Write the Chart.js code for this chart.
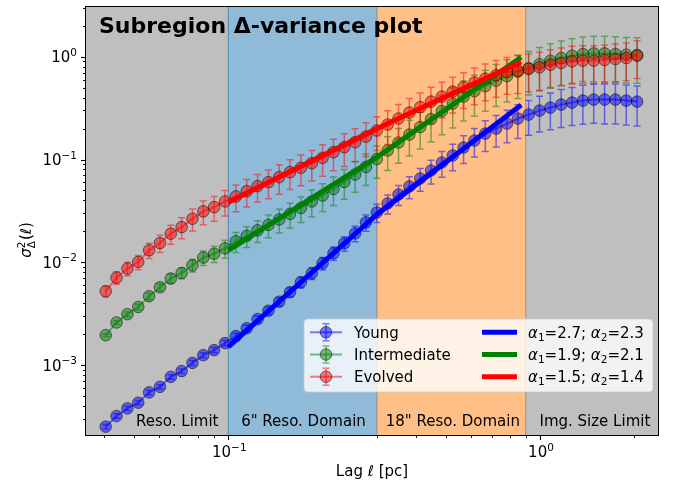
<!DOCTYPE html>
<html>
<head>
<meta charset="utf-8">
<script src="https://cdn.jsdelivr.net/npm/chart.js@4.4.1/dist/chart.umd.min.js"></script>
<style>
  html, body { margin: 0; padding: 0; background: #ffffff; }
  canvas { display: block; }
</style>
</head>
<body>
<canvas id="dv" width="674" height="486"></canvas>
<script>
// Lag values (pc)
const lags = [0.04044, 0.04381, 0.04747, 0.05143, 0.05572, 0.06036, 0.06540, 0.07085, 0.07676, 0.08316,
  0.09010, 0.09761, 0.1058, 0.1146, 0.1241, 0.1345, 0.1457, 0.1578, 0.1710, 0.1853,
  0.2007, 0.2175, 0.2356, 0.2553, 0.2765, 0.2996, 0.3246, 0.3517, 0.3810, 0.4128,
  0.4472, 0.4845, 0.5249, 0.5687, 0.6161, 0.6675, 0.7232, 0.7835, 0.8489, 0.9197,
  0.9964, 1.0795, 1.1695, 1.2670, 1.3727, 1.4872, 1.6112, 1.7456, 1.8912, 2.0489];

const seriesNames = ['Young', 'Intermediate', 'Evolved'];

// Delta-variance per subregion
const young = [0.000252, 0.000320, 0.000380, 0.000431, 0.000543, 0.000615, 0.000769, 0.000875, 0.001052, 0.001250,
  0.001400, 0.001637, 0.001913, 0.002286, 0.002800, 0.003380, 0.004140, 0.005120, 0.006400, 0.007820,
  0.009780, 0.01223, 0.01529, 0.01913, 0.02445, 0.03057, 0.03740, 0.04570, 0.05470, 0.06540,
  0.07820, 0.09350, 0.1094, 0.1308, 0.1529, 0.1788, 0.2000, 0.2237, 0.2502, 0.2735,
  0.2990, 0.3197, 0.3420, 0.3575, 0.3741, 0.3827, 0.3827, 0.3827, 0.3741, 0.3659];
const intermediate = [0.001955, 0.002600, 0.003130, 0.003680, 0.004680, 0.005720, 0.006950, 0.007870, 0.009350, 0.01111,
  0.01214, 0.01368, 0.01600, 0.01808, 0.02046, 0.02310, 0.02610, 0.02960, 0.03380, 0.03910,
  0.04470, 0.05170, 0.06050, 0.07150, 0.08460, 0.1011, 0.1223, 0.1462, 0.1749, 0.2070,
  0.2472, 0.2957, 0.3497, 0.4090, 0.4626, 0.5172, 0.5848, 0.6470, 0.7150, 0.7731,
  0.8458, 0.9145, 0.9714, 1.0226, 1.0620, 1.0766, 1.0766, 1.0620, 1.0457, 1.0388];
const evolved = [0.005230, 0.007100, 0.008690, 0.01007, 0.01309, 0.01540, 0.01900, 0.02203, 0.02656, 0.03129,
  0.03443, 0.03910, 0.04373, 0.04921, 0.05506, 0.06024, 0.06736, 0.07534, 0.08305, 0.09204,
  0.1039, 0.1178, 0.1317, 0.1473, 0.1672, 0.1913, 0.2187, 0.2502, 0.2860, 0.3233,
  0.3659, 0.4090, 0.4571, 0.5058, 0.5596, 0.6114, 0.6610, 0.7073, 0.7311, 0.7603,
  0.7873, 0.8363, 0.8686, 0.9003, 0.9145, 0.9145, 0.9289, 0.9499, 0.9714, 1.0226];

// Relative 1-sigma uncertainties
const youngErr = [0.05, 0.05, 0.05, 0.05, 0.05, 0.05, 0.05, 0.05, 0.055, 0.055,
  0.06, 0.06, 0.065, 0.07, 0.075, 0.08, 0.09, 0.10, 0.12, 0.13,
  0.14, 0.15, 0.16, 0.17, 0.18, 0.20, 0.21, 0.22, 0.24, 0.25,
  0.26, 0.28, 0.29, 0.30, 0.31, 0.33, 0.34, 0.35, 0.36, 0.37,
  0.38, 0.39, 0.40, 0.40, 0.41, 0.41, 0.42, 0.42, 0.42, 0.42];
const intermediateErr = [0.03, 0.04, 0.05, 0.06, 0.07, 0.08, 0.10, 0.12, 0.14, 0.16,
  0.18, 0.20, 0.22, 0.23, 0.24, 0.25, 0.26, 0.27, 0.28, 0.29,
  0.30, 0.31, 0.32, 0.33, 0.34, 0.35, 0.36, 0.37, 0.38, 0.39,
  0.40, 0.41, 0.42, 0.42, 0.43, 0.43, 0.44, 0.44, 0.45, 0.45,
  0.45, 0.46, 0.46, 0.46, 0.46, 0.47, 0.47, 0.47, 0.47, 0.47];
const evolvedErr = [0.12, 0.14, 0.15, 0.16, 0.17, 0.19, 0.21, 0.23, 0.24, 0.26,
  0.27, 0.28, 0.29, 0.30, 0.30, 0.31, 0.32, 0.32, 0.33, 0.33,
  0.34, 0.34, 0.35, 0.35, 0.36, 0.36, 0.36, 0.37, 0.37, 0.37,
  0.38, 0.38, 0.38, 0.38, 0.39, 0.39, 0.39, 0.39, 0.40, 0.40,
  0.40, 0.40, 0.40, 0.40, 0.40, 0.40, 0.40, 0.40, 0.40, 0.40];

// Power-law fits: slopes in the two domains and amplitude at the first break
const alpha1 = [2.7, 1.9, 1.5];
const alpha2 = [2.3, 2.1, 1.4];
const fitAmp = [0.001506, 0.01308, 0.03849];
const fitBreaks = [0.1, 0.3, 0.87];

// Scale domains
const domainEdges = [0.1, 0.3, 0.9];
const domainNames = ['Reso. Limit', '6" Reso. Domain', '18" Reso. Domain', 'Img. Size Limit'];
const domainLabelAt = [0.0686, 0.1743, 0.5254, 1.5];

const xTickExps = [-1, 0];
const yTickExps = [0, -1, -2, -3];

// ---- styling ----
const FONT = '"DejaVu Sans", sans-serif';
const rgb = ['0,0,255', '0,128,0', '255,0,0'];
const spanColors = ['rgba(128,128,128,0.5)', 'rgba(31,119,180,0.5)', 'rgba(255,127,14,0.5)', 'rgba(128,128,128,0.5)'];

const seriesVals = [young, intermediate, evolved];
const seriesErr = [youngErr, intermediateErr, evolvedErr];

const datasets = [];
seriesVals.forEach((vals, s) => {
  datasets.push({
    label: seriesNames[s],
    data: lags.map((x, i) => ({ x: x, y: vals[i] })),
    relErr: seriesErr[s],
    showLine: true,
    borderColor: `rgba(${rgb[s]},0.5)`,
    borderWidth: 2,
    pointRadius: 5.8,
    pointBackgroundColor: `rgba(${rgb[s]},0.5)`,
    pointBorderColor: 'rgba(0,0,0,0.5)',
    pointBorderWidth: 1,
    order: 6 - s
  });
});
alpha1.forEach((a1, s) => {
  const y0 = fitAmp[s];
  const y1 = y0 * Math.pow(fitBreaks[1] / fitBreaks[0], a1);
  const y2 = y1 * Math.pow(fitBreaks[2] / fitBreaks[1], alpha2[s]);
  datasets.push({
    label: 'fit ' + seriesNames[s],
    data: [{ x: fitBreaks[0], y: y0 }, { x: fitBreaks[1], y: y1 }, { x: fitBreaks[2], y: y2 }],
    showLine: true,
    borderColor: `rgb(${rgb[s]})`,
    borderWidth: 5,
    borderCapStyle: 'butt',
    borderJoinStyle: 'miter',
    pointRadius: 0,
    order: 3 - s
  });
});

// draws text pieces with individual fonts and vertical offsets
function drawRich(ctx, parts, x, y, align) {
  let w = 0;
  parts.forEach(p => { ctx.font = p.font; p.w = p.adv !== undefined ? p.adv : ctx.measureText(p.text).width; w += p.w; });
  let cx = align === 'center' ? x - w / 2 : (align === 'right' ? x - w : x);
  ctx.textAlign = 'left';
  parts.forEach(p => {
    ctx.font = p.font;
    ctx.fillText(p.text, cx, y + (p.dy || 0));
    cx += p.w;
  });
  return w;
}

function powLabel(exp) {
  const e = exp < 0 ? '\u2212' + Math.abs(exp) : String(exp);
  return [
    { text: '10', font: `15px ${FONT}` },
    { text: e, font: `10.5px ${FONT}`, dy: -6.5 }
  ];
}

const spans = {
  id: 'spans',
  beforeDatasetsDraw(chart) {
    const { ctx, chartArea: a } = chart;
    const xs = chart.scales.x;
    const edges = [a.left - 2, ...domainEdges.map(v => xs.getPixelForValue(v)), a.right + 2];
    ctx.save();
    ctx.beginPath();
    ctx.rect(a.left, a.top, a.right - a.left, a.bottom - a.top);
    ctx.clip();
    for (let i = 0; i < 4; i++) {
      ctx.fillStyle = spanColors[i];
      ctx.strokeStyle = spanColors[i];
      ctx.lineWidth = 1;
      ctx.fillRect(edges[i], a.top - 2, edges[i + 1] - edges[i], a.bottom - a.top + 4);
      ctx.strokeRect(edges[i], a.top - 2, edges[i + 1] - edges[i], a.bottom - a.top + 4);
    }
    ctx.restore();
  }
};

const errorBars = {
  id: 'errorBars',
  beforeDatasetDraw(chart, args) {
    const ds = chart.data.datasets[args.index];
    if (!ds.relErr) return;
    const { ctx, chartArea: a } = chart;
    const xs = chart.scales.x, ys = chart.scales.y;
    ctx.save();
    ctx.beginPath();
    ctx.rect(a.left, a.top, a.right - a.left, a.bottom - a.top);
    ctx.clip();
    ctx.strokeStyle = ds.borderColor;
    ctx.lineWidth = 1.5;
    ds.data.forEach((p, i) => {
      const e = p.y * ds.relErr[i];
      const px = xs.getPixelForValue(p.x);
      const yHi = ys.getPixelForValue(p.y + e);
      const yLo = ys.getPixelForValue(p.y - e);
      ctx.beginPath();
      ctx.moveTo(px, yLo); ctx.lineTo(px, yHi);
      ctx.moveTo(px - 3.5, yLo); ctx.lineTo(px + 3.5, yLo);
      ctx.moveTo(px - 3.5, yHi); ctx.lineTo(px + 3.5, yHi);
      ctx.stroke();
    });
    ctx.restore();
  }
};

const decor = {
  id: 'decor',
  afterDatasetsDraw(chart) {
    const { ctx, chartArea: a } = chart;
    const xs = chart.scales.x, ys = chart.scales.y;
    ctx.save();
    ctx.fillStyle = '#000';
    ctx.textBaseline = 'alphabetic';

    // domain labels
    ctx.font = `15px ${FONT}`;
    ctx.textAlign = 'center';
    domainNames.forEach((t, i) => ctx.fillText(t, xs.getPixelForValue(domainLabelAt[i]), 426));

    // title
    ctx.font = `bold 22px ${FONT}`;
    ctx.textAlign = 'left';
    ctx.fillText('Subregion \u0394-variance plot', 99, 33);

    // frame
    ctx.strokeStyle = '#000';
    ctx.lineWidth = 1;
    ctx.strokeRect(Math.round(a.left) - 0.5, Math.round(a.top) - 0.5,
      Math.round(a.right - a.left) + 1, Math.round(a.bottom - a.top) + 1);

    // ticks
    function tickVals(scale) {
      const out = [];
      const lo = Math.floor(Math.log10(scale.min)), hi = Math.ceil(Math.log10(scale.max));
      for (let e = lo; e <= hi; e++) {
        for (let k = 1; k <= 9; k++) {
          const v = k * Math.pow(10, e);
          if (v >= scale.min * 0.9999 && v <= scale.max * 1.0001) out.push({ v: v, major: k === 1 });
        }
      }
      return out;
    }
    tickVals(xs).forEach(t => {
      const px = Math.round(xs.getPixelForValue(t.v)) + 0.5;
      ctx.lineWidth = t.major ? 1.1 : 0.9;
      ctx.beginPath();
      ctx.moveTo(px, a.bottom); ctx.lineTo(px, a.bottom + (t.major ? 5 : 3));
      ctx.stroke();
    });
    tickVals(ys).forEach(t => {
      const py = Math.round(ys.getPixelForValue(t.v)) + 0.5;
      ctx.lineWidth = t.major ? 1.1 : 0.9;
      ctx.beginPath();
      ctx.moveTo(a.left, py); ctx.lineTo(a.left - (t.major ? 5 : 3), py);
      ctx.stroke();
    });

    // tick labels
    xTickExps.forEach(e => {
      drawRich(ctx, powLabel(e), xs.getPixelForValue(Math.pow(10, e)) + 1, 457, 'center');
    });
    yTickExps.forEach(e => {
      drawRich(ctx, powLabel(e), a.left - 9, ys.getPixelForValue(Math.pow(10, e)) + 5.5, 'right');
    });

    // x-axis label
    ctx.font = `15px ${FONT}`;
    ctx.textAlign = 'center';
    ctx.fillText('Lag \u2113 [pc]', (a.left + a.right) / 2, 476);

    // y-axis label: sigma^2_Delta(l)
    ctx.save();
    ctx.translate(31, 240);
    ctx.rotate(-Math.PI / 2);
    const big = `italic 15px ${FONT}`, small = `10.5px ${FONT}`, norm = `15px ${FONT}`;
    ctx.font = small;
    const wSup = Math.max(ctx.measureText('2').width, ctx.measureText('\u0394').width);
    const parts = [
      { text: '\u03c3', font: big },
      { text: '2', font: small, dy: -6.5, adv: 0 },
      { text: '\u0394', font: small, dy: 3.5, adv: wSup + 1 },
      { text: '(', font: norm },
      { text: '\u2113', font: norm },
      { text: ')', font: norm }
    ];
    drawRich(ctx, parts, 0, 0, 'center');
    ctx.restore();

    ctx.restore();
  },
  afterDraw(chart) {
    const { ctx } = chart;
    ctx.save();
    // legend frame
    const bx = 304, by = 319, bw = 349, bh = 73, r = 4;
    ctx.beginPath();
    ctx.moveTo(bx + r, by);
    ctx.arcTo(bx + bw, by, bx + bw, by + bh, r);
    ctx.arcTo(bx + bw, by + bh, bx, by + bh, r);
    ctx.arcTo(bx, by + bh, bx, by, r);
    ctx.arcTo(bx, by, bx + bw, by, r);
    ctx.closePath();
    ctx.fillStyle = 'rgba(255,255,255,0.8)';
    ctx.fill();
    ctx.strokeStyle = 'rgba(204,204,204,0.8)';
    ctx.lineWidth = 1;
    ctx.stroke();

    const rows = [332.3, 354.5, 376.7];
    ctx.textBaseline = 'alphabetic';
    seriesNames.forEach((name, s) => {
      const y = rows[s];
      const c = `rgba(${rgb[s]},0.5)`;
      ctx.strokeStyle = c;
      ctx.lineWidth = 2;
      ctx.beginPath(); ctx.moveTo(310, y); ctx.lineTo(342, y); ctx.stroke();
      ctx.lineWidth = 1.5;
      ctx.beginPath();
      ctx.moveTo(326, y - 8.5); ctx.lineTo(326, y + 8.5);
      ctx.moveTo(322.5, y - 8.5); ctx.lineTo(329.5, y - 8.5);
      ctx.moveTo(322.5, y + 8.5); ctx.lineTo(329.5, y + 8.5);
      ctx.stroke();
      ctx.beginPath(); ctx.arc(326, y, 5.8, 0, Math.PI * 2);
      ctx.fillStyle = c; ctx.fill();
      ctx.strokeStyle = 'rgba(0,0,0,0.5)'; ctx.lineWidth = 1; ctx.stroke();

      ctx.fillStyle = '#000';
      ctx.font = `15px ${FONT}`;
      ctx.textAlign = 'left';
      ctx.fillText(name, 354, y + 5.5);

      // fit handle
      ctx.strokeStyle = `rgb(${rgb[s]})`;
      ctx.lineWidth = 5;
      ctx.lineCap = 'butt';
      ctx.beginPath(); ctx.moveTo(482, y); ctx.lineTo(517, y); ctx.stroke();

      const it = `italic 15px ${FONT}`, sm = `10.5px ${FONT}`, nm = `15px ${FONT}`;
      drawRich(ctx, [
        { text: '\u03b1', font: it },
        { text: '1', font: sm, dy: 3 },
        { text: '=' + alpha1[s].toFixed(1) + '; ', font: nm },
        { text: '\u03b1', font: it },
        { text: '2', font: sm, dy: 3 },
        { text: '=' + alpha2[s].toFixed(1), font: nm }
      ], 528, y + 5.5, 'left');
    });
    ctx.restore();
  }
};

new Chart(document.getElementById('dv'), {
  type: 'scatter',
  data: { datasets: datasets },
  options: {
    responsive: false,
    animation: false,
    devicePixelRatio: 1,
    layout: { padding: { left: 86, right: 16, top: 6, bottom: 51 } },
    scales: {
      x: { type: 'logarithmic', min: 0.03496, max: 2.391, display: false },
      y: { type: 'logarithmic', min: 2.091e-4, max: 3.058, display: false }
    },
    elements: { line: { tension: 0 } },
    plugins: { legend: { display: false }, tooltip: { enabled: false } }
  },
  plugins: [spans, errorBars, decor]
});
</script>
</body>
</html>
